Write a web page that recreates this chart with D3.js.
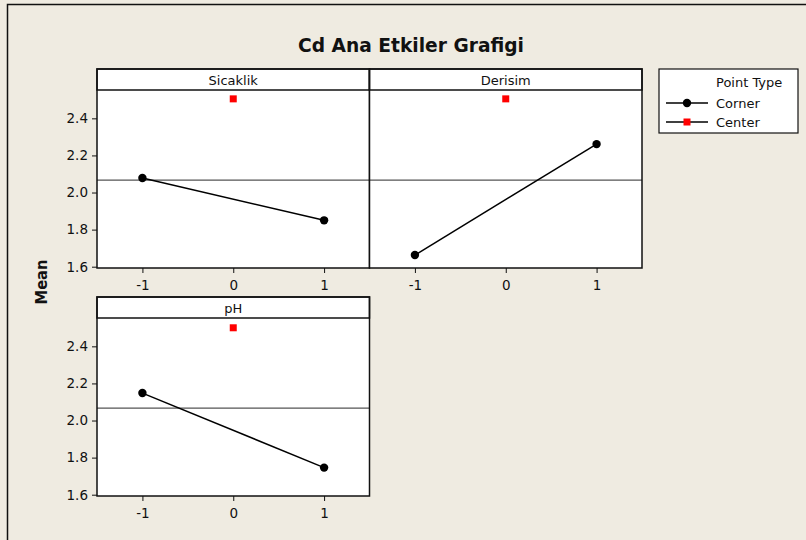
<!DOCTYPE html>
<html>
<head>
<meta charset="utf-8">
<script src="https://cdn.jsdelivr.net/npm/d3@7"></script>
<style>
  html, body { margin: 0; padding: 0; background: #efebe1; }
  svg { display: block; }
  text { font-family: "DejaVu Sans", Verdana, sans-serif; fill: #111; }
</style>
</head>
<body>
<svg id="chart" width="806" height="540"></svg>
<script>
// Main effects of each factor on Cd mean
const factors = ["Sicaklik", "Derisim", "pH"];
const levels = [-1, 1];
const cornerMeans = [
  [2.078, 1.850],   // Sicaklik
  [1.663, 2.261],   // Derisim
  [2.148, 1.746]    // pH
];
const centerMeans = [2.505, 2.505, 2.500];
const grandMean = 2.067;
const yTicks = [1.6, 1.8, 2.0, 2.2, 2.4];
const xTicks = [-1, 0, 1];
const pointTypes = ["Corner", "Center"];

const svg = d3.select("#chart");
const W = 806, H = 540;
const fs = 13.5;

// frame
svg.append("rect").attr("x", 0).attr("y", 0).attr("width", W).attr("height", H).attr("fill", "#efebe1");
svg.append("path").attr("d", `M7.5,${H} V4.5 H${W}`).attr("fill", "none").attr("stroke", "#111").attr("stroke-width", 1.5);

// title
svg.append("text").attr("x", 411).attr("y", 52).attr("text-anchor", "middle")
  .attr("font-weight", "bold").attr("font-size", 19)
  .attr("textLength", 226).attr("lengthAdjust", "spacingAndGlyphs")
  .text("Cd Ana Etkiler Grafigi");

// y-axis title
svg.append("text").attr("transform", "translate(47,282) rotate(-90)")
  .attr("text-anchor", "middle").attr("font-weight", "bold").attr("font-size", 15)
  .attr("textLength", 45).attr("lengthAdjust", "spacingAndGlyphs")
  .text("Mean");

// panel layout
const panelW = 272.5, panelH = 199, stripH = 21;
const panels = [
  { x0: 97, y0: 69, yAxis: true },
  { x0: 97 + panelW, y0: 69, yAxis: false },
  { x0: 97, y0: 297, yAxis: true }
];

const x = d3.scaleLinear().domain([-1.5, 1.5]).range([0, panelW]);
const y = d3.scaleLinear().domain([1.593, 2.666]).range([panelH, 0]);

panels.forEach((p, i) => {
  const g = svg.append("g").attr("transform", `translate(${p.x0},${p.y0})`);

  g.append("rect").attr("width", panelW).attr("height", panelH).attr("fill", "#fff");

  // reference line at overall mean
  g.append("line").attr("x1", 0).attr("x2", panelW)
    .attr("y1", y(grandMean)).attr("y2", y(grandMean))
    .attr("stroke", "#555").attr("stroke-width", 1.2);

  // corner means
  const pts = levels.map((l, j) => [l, cornerMeans[i][j]]);
  g.append("path").attr("d", d3.line().x(d => x(d[0])).y(d => y(d[1]))(pts))
    .attr("fill", "none").attr("stroke", "#000").attr("stroke-width", 1.5);
  g.selectAll("circle.c").data(pts).join("circle")
    .attr("cx", d => x(d[0])).attr("cy", d => y(d[1])).attr("r", 4.2).attr("fill", "#000");

  // center point
  g.append("rect").attr("x", x(0) - 3.5).attr("y", y(centerMeans[i]) - 3.5)
    .attr("width", 7).attr("height", 7).attr("fill", "#f00");

  // strip
  g.append("rect").attr("width", panelW).attr("height", stripH).attr("fill", "#fff")
    .attr("stroke", "#111").attr("stroke-width", 1.5);
  g.append("text").attr("x", panelW / 2).attr("y", 15.5).attr("text-anchor", "middle")
    .attr("font-size", 13).text(factors[i]);

  // border
  g.append("rect").attr("width", panelW).attr("height", panelH).attr("fill", "none")
    .attr("stroke", "#111").attr("stroke-width", 1.5);

  // x axis
  const xa = g.append("g").attr("transform", `translate(0,${panelH})`)
    .call(d3.axisBottom(x).tickValues(xTicks).tickSize(5).tickPadding(7).tickFormat(d => String(d)));
  xa.select(".domain").remove();
  xa.selectAll("text").attr("font-size", fs).attr("font-family", "DejaVu Sans, sans-serif").attr("fill", "#111");
  xa.selectAll("line").attr("stroke", "#111");

  if (p.yAxis) {
    const ya = g.append("g")
      .call(d3.axisLeft(y).tickValues(yTicks).tickSize(5).tickPadding(4).tickFormat(d3.format(".1f")));
    ya.select(".domain").remove();
    ya.selectAll("text").attr("font-size", fs).attr("font-family", "DejaVu Sans, sans-serif").attr("fill", "#111");
    ya.selectAll("line").attr("stroke", "#111");
  }
});

// legend
const lg = svg.append("g").attr("transform", "translate(659,69)");
lg.append("rect").attr("width", 139).attr("height", 64).attr("fill", "#fff")
  .attr("stroke", "#111").attr("stroke-width", 1.2);
lg.append("text").attr("x", 57).attr("y", 18).attr("font-size", 13).text("Point Type");
pointTypes.forEach((t, k) => {
  const yy = 34 + k * 19;
  lg.append("line").attr("x1", 7).attr("x2", 49).attr("y1", yy).attr("y2", yy)
    .attr("stroke", "#000").attr("stroke-width", 1.5);
  if (k === 0) {
    lg.append("circle").attr("cx", 28).attr("cy", yy).attr("r", 4.2).attr("fill", "#000");
  } else {
    lg.append("rect").attr("x", 24.5).attr("y", yy - 3.5).attr("width", 7).attr("height", 7).attr("fill", "#f00");
  }
  lg.append("text").attr("x", 57).attr("y", yy + 4.5).attr("font-size", 13).text(t);
});
</script>
</body>
</html>
